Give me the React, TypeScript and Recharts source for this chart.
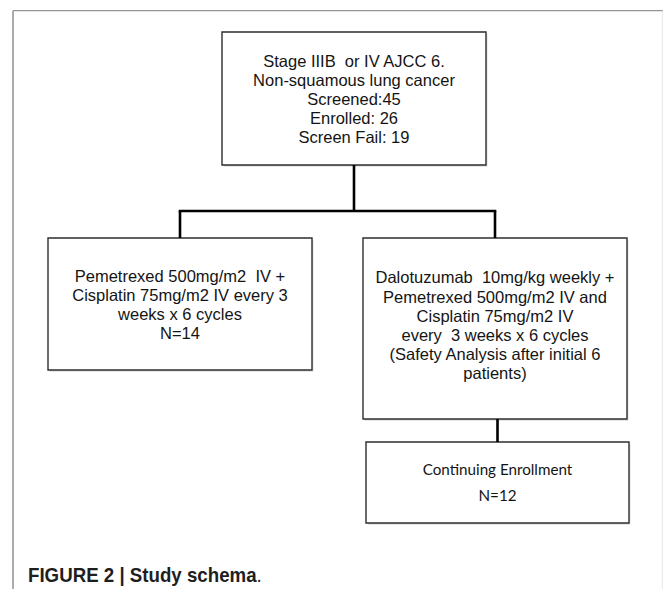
import React from 'react';
import { ComposedChart, XAxis, YAxis, ReferenceArea, ReferenceLine, Scatter } from 'recharts';

const W = 663;
const H = 589;

// ---- content (data) ----
const nodeIds = ['screening', 'armA', 'armB', 'continuing'];
const screeningLines = ['Stage IIIB  or IV AJCC 6.', 'Non-squamous lung cancer', 'Screened:45', 'Enrolled: 26', 'Screen Fail: 19'];
const armALines = ['Pemetrexed 500mg/m2  IV +', 'Cisplatin 75mg/m2 IV every 3', 'weeks x 6 cycles', 'N=14'];
const armBLines = ['Dalotuzumab  10mg/kg weekly +', 'Pemetrexed 500mg/m2 IV and', 'Cisplatin 75mg/m2 IV', 'every  3 weeks x 6 cycles', '(Safety Analysis after initial 6', 'patients)'];
const continuingLines = ['Continuing Enrollment', 'N=12'];
const captionBold = 'FIGURE 2 | Study schema';
const captionEnd = '.';

// ---- layout (chart units = reference pixels) ----
const boxX1 = [222, 48, 363, 366];
const boxX2 = [486, 312, 627, 629];
const boxY1 = [32, 238, 238, 442];
const boxY2 = [165, 370, 419, 523];
const lineGap = [19, 18.9, 19.2, 25.7];
const textShift = [1, 0.5, -3, 0];
const busY = 211;

const nodeLines = [screeningLines, armALines, armBLines, continuingLines];
const centers = nodeIds.map((id, i) => ({ id, cx: (boxX1[i] + boxX2[i]) / 2, cy: (boxY1[i] + boxY2[i]) / 2 }));

const SANS = '"Liberation Sans", Arial, sans-serif';
const CAL = 'Lato, "Open Sans", sans-serif';

function BoxText(props: any) {
  const { viewBox, lines, gap, shift, family, size } = props;
  if (!viewBox) return null;
  const { x, y, width, height } = viewBox;
  const cx = x + width / 2;
  const cy = y + height / 2 + shift;
  const start = cy - ((lines.length - 1) * gap) / 2;
  return (
    <text textAnchor="middle" fontFamily={family} fontSize={size} fill="#141414" style={{ whiteSpace: 'pre' }}>
      {lines.map((l: string, i: number) => (
        <tspan key={i} x={cx} y={start + i * gap} dy="0.36em">
          {l}
        </tspan>
      ))}
    </text>
  );
}

export default function App() {
  const tops = centers.map((c, i) => ({ x: c.cx, y: boxY1[i] }));
  const bottoms = centers.map((c, i) => ({ x: c.cx, y: boxY2[i] }));
  return (
    <div style={{ position: 'absolute', left: 0, top: 0, width: W, height: H, background: '#fff' }}>
      <ComposedChart width={W} height={H} margin={{ top: 0, right: 0, bottom: 0, left: 0 }} data={centers}>
        <XAxis type="number" dataKey="cx" domain={[0, W]} hide allowDataOverflow />
        <YAxis type="number" dataKey="cy" domain={[0, H]} hide reversed allowDataOverflow />
        {/* outer frame */}
        <ReferenceLine segment={[{ x: 13, y: 10.7 }, { x: W, y: 10.7 }]} stroke="#7a7a7a" strokeWidth={1} ifOverflow="visible" />
        <ReferenceLine segment={[{ x: 13, y: 10.7 }, { x: 13, y: H }]} stroke="#ababab" strokeWidth={2} ifOverflow="visible" />
        <ReferenceLine segment={[{ x: 662.3, y: 10.7 }, { x: 662.3, y: H }]} stroke="#e6e6e6" strokeWidth={1} ifOverflow="visible" />
        {/* connectors */}
        <ReferenceLine segment={[bottoms[0], { x: bottoms[0].x, y: busY }]} stroke="#000" strokeWidth={2.6} ifOverflow="visible" />
        <ReferenceLine segment={[{ x: tops[1].x - 1.3, y: busY }, { x: tops[2].x + 1.3, y: busY }]} stroke="#000" strokeWidth={2.6} ifOverflow="visible" />
        <ReferenceLine segment={[{ x: tops[1].x, y: busY }, tops[1]]} stroke="#000" strokeWidth={2.6} ifOverflow="visible" />
        <ReferenceLine segment={[{ x: tops[2].x, y: busY }, tops[2]]} stroke="#000" strokeWidth={2.6} ifOverflow="visible" />
        <ReferenceLine segment={[{ x: tops[3].x, y: bottoms[2].y }, { x: tops[3].x, y: tops[3].y }]} stroke="#000" strokeWidth={2.6} ifOverflow="visible" />
        {/* box shadows */}
        {nodeIds.map((id, i) => (
          <ReferenceArea key={'s' + id} x1={boxX1[i] + 1.5} x2={boxX2[i] + 1.5} y1={boxY1[i] + 1.8} y2={boxY2[i] + 1.8} fill="#000" fillOpacity={0.13} stroke="none" ifOverflow="visible" />
        ))}
        {/* boxes */}
        {nodeIds.map((id, i) => (
          <ReferenceArea
            key={id}
            x1={boxX1[i]}
            x2={boxX2[i]}
            y1={boxY1[i]}
            y2={boxY2[i]}
            fill="#fff"
            fillOpacity={1}
            stroke="#2e2e2e"
            strokeWidth={1.4}
            ifOverflow="visible"
            label={(p: any) => (
              <BoxText
                viewBox={p.viewBox}
                lines={nodeLines[i]}
                gap={lineGap[i]}
                shift={textShift[i]}
                family={i === 3 ? CAL : SANS}
                size={i === 3 ? 15.2 : 16.5}
              />
            )}
          />
        ))}
        <Scatter dataKey="cy" isAnimationActive={false} shape={() => null} />
      </ComposedChart>
      <div
        style={{
          position: 'absolute',
          left: 28,
          top: 562,
          fontFamily: '"Liberation Sans", Arial, sans-serif',
          fontSize: 21,
          fontWeight: 700,
          color: '#1e1e1e',
          lineHeight: '26px',
          whiteSpace: 'pre',
          transform: 'scaleX(0.89)',
          transformOrigin: 'left center',
        }}
      >
        {captionBold}
        <span style={{ fontWeight: 400 }}>{captionEnd}</span>
      </div>
    </div>
  );
}
